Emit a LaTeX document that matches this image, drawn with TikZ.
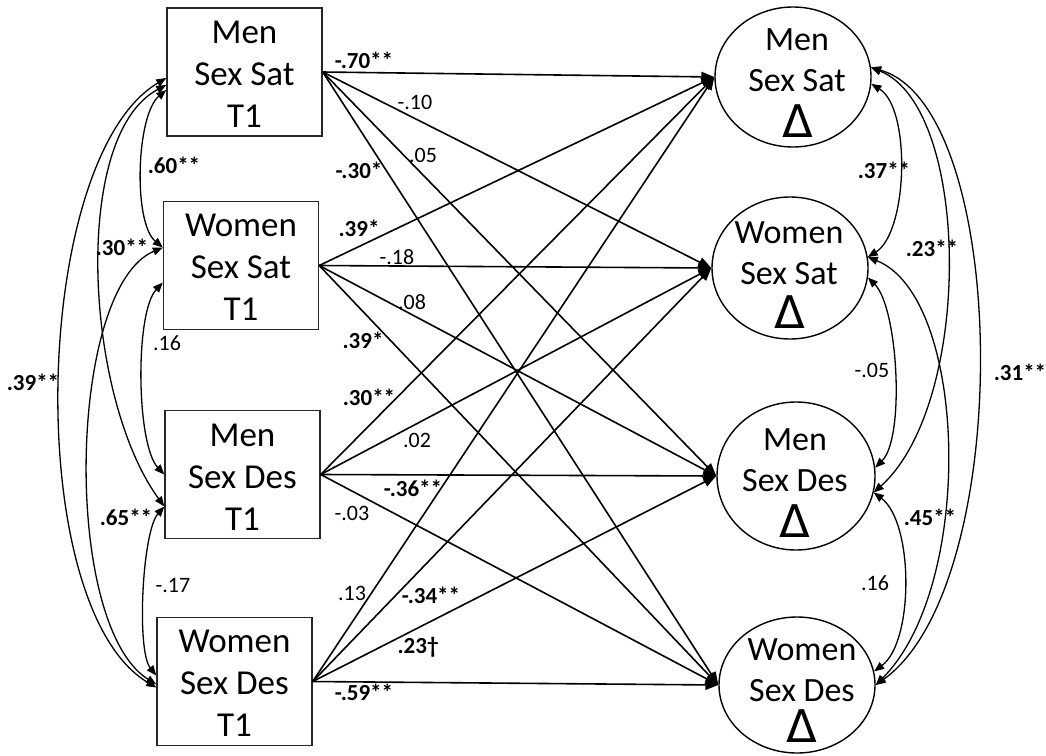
\documentclass[tikz,border=0pt]{standalone}
\usepackage{fontspec}
\setmainfont{Carlito}
\newfontfamily\dltfont{DejaVu Sans}
\usetikzlibrary{arrows.meta,shapes.geometric,calc}
\begin{document}
\begin{tikzpicture}[x=1pt,y=-1pt,
  box/.style={draw=black!85,line width=1.4pt,minimum width=155pt,minimum height=128pt,inner sep=0pt,align=center,font=\fontsize{35}{42}\selectfont},
  ell/.style={draw,ellipse,line width=1.4pt,inner sep=0pt},
  etext/.style={align=center,font=\fontsize{34}{41}\selectfont,inner sep=0pt},
  dl/.style={font=\dltfont\fontsize{45}{45}\selectfont,inner sep=0pt,anchor=base},
  pth/.style={line width=1.6pt,-{Triangle[length=13pt,width=10pt]}},
  cor/.style={line width=1.3pt,{Triangle[length=10pt,width=8pt]}-{Triangle[length=10pt,width=8pt]}},
  lb/.style={font=\fontsize{23}{25}\selectfont\bfseries,inner sep=0pt},
  ln/.style={font=\fontsize{22}{24}\selectfont,inner sep=0pt}]
\useasboundingbox (0,0) rectangle (1046,755);
% boxes
\node[box] (b1) at (244.5,72) {\rule{0pt}{27pt}Men\\Sex Sat\\T1};
\node[box] (b2) at (241,265.5) {\rule{0pt}{26pt}Women\\Sex Sat\\T1};
\node[box] (b3) at (242.5,474.5) {\rule{0pt}{27pt}Men\\Sex Des\\T1};
\node[box] (b4) at (234.5,681.5) {\rule{0pt}{26pt}Women\\Sex Des\\T1};
% ellipses
\node[ell,minimum width=156pt,minimum height=140pt] (e1) at (793,77) {};
\node[ell,minimum width=156pt,minimum height=142pt] (e2) at (790,268) {};
\node[ell,minimum width=158pt,minimum height=148pt] (e3) at (796,476) {};
\node[ell,minimum width=156pt,minimum height=136pt] (e4) at (797,685) {};
\node[etext] (e1t) at (797,60.5) {Men\\Sex Sat};
\node[etext] (e2t) at (789,253.5) {Women\\Sex Sat};
\node[etext] (e3t) at (795,460.5) {Men\\Sex Des};
\node[etext] (e4t) at (802,670.5) {Women\\Sex Des};
\node[dl] (e1d) at (798,137) {Δ};
\node[dl] (e2d) at (790,328) {Δ};
\node[dl] (e3d) at (795,537) {Δ};
\node[dl] (e4d) at (802,742) {Δ};
% paths
\foreach \s in {b1,b2,b3,b4}{
  \foreach \t in {e1,e2,e3,e4}{
    \draw[pth] (\s.east) -- (\t.west);
  }
}
% left correlations
\draw[cor] ($(b1.west)+(0,18)$) .. controls +(-30,25) and +(-30,-25) .. ($(b2.west)+(0,-18)$);
\draw[cor] ($(b1.west)+(0,13)$) .. controls +(-95,50) and +(-80,-110) .. ($(b3.west)+(0,32)$);
\draw[cor] ($(b1.west)+(0,6)$) .. controls +(-135,80) and +(-135,-80) .. ($(b4.west)+(0,6)$);
\draw[cor] ($(b2.west)+(0,-18)$) .. controls +(-95,40) and +(-95,-60) .. ($(b4.west)+(0,3)$);
\draw[cor] ($(b2.west)+(0,17)$) .. controls +(-28,30) and +(-28,-30) .. (b3.west);
\draw[cor] ($(b3.west)+(0,32)$) .. controls +(-22,25) and +(-20,-25) .. ($(b4.west)+(0,-6)$);
% right correlations
\draw[cor] (e1.-5) .. controls +(40,25) and +(40,-25) .. (e2.8);
\draw[cor] (e1.7) .. controls +(100,40) and +(100,-90) .. (e3.-12);
\draw[cor] (e2.8) .. controls +(100,40) and +(100,-100) .. (e4.0);
\draw[cor] (e2.-7) .. controls +(30,30) and +(30,-30) .. (e3.6);
\draw[cor] (e3.-12) .. controls +(40,30) and +(40,-30) .. (e4.10);
\draw[cor] (e1.7) .. controls +(140,40) and +(140,-100) .. (e4.0);
% path labels
\node[lb] (p1) at (364,60) {-.70**};
\node[ln] (p2) at (415,102) {-.10};
\node[ln] (p3) at (423,155) {.05};
\node[lb] (p4) at (359,170) {-.30*};
\node[lb] (p5) at (359,228) {.39*};
\node[ln] (p6) at (397,257) {-.18};
\node[ln] (p7) at (412,302) {.08};
\node[lb] (p8) at (363,340) {.39*};
\node[lb] (p9) at (369,397) {.30**};
\node[ln] (p10) at (417,440) {.02};
\node[lb] (p11) at (413,488) {-.36**};
\node[ln] (p12) at (352,513) {-.03};
\node[ln] (p13) at (352,593) {.13};
\node[lb] (p14) at (431,595) {-.34**};
\node[lb] (p15) at (418,647) {.23†};
\node[lb] (p16) at (364,692) {-.59**};
% left correlation labels
\node[lb] (c1) at (174,165) {.60**};
\node[lb] (c2) at (122,247) {.30**};
\node[lb] (c3) at (33,382) {.39**};
\node[ln] (c4) at (167,343) {.16};
\node[lb] (c5) at (126,517) {.65**};
\node[ln] (c6) at (173,585) {-.17};
% right correlation labels
\node[lb] (r1) at (884,170) {.37**};
\node[lb] (r2) at (932,248) {.23**};
\node[ln] (r3) at (872,370) {-.05};
\node[lb] (r4) at (1020,372) {.31**};
\node[lb] (r5) at (930,517) {.45**};
\node[ln] (r6) at (875,583) {.16};
\end{tikzpicture}
\end{document}
